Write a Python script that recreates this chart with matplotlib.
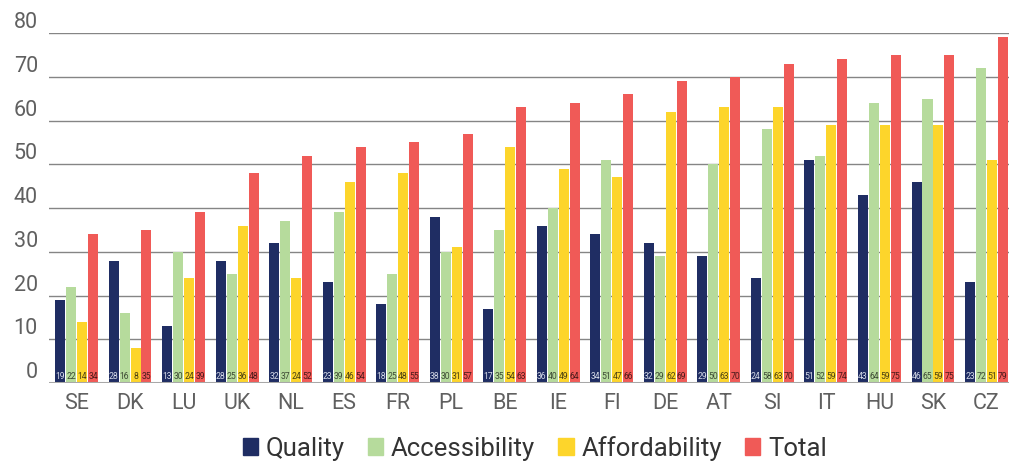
import numpy as np
import matplotlib.pyplot as plt
from matplotlib.patches import Patch

countries = ["SE", "DK", "LU", "UK", "NL", "ES", "FR", "PL", "BE",
             "IE", "FI", "DE", "AT", "SI", "IT", "HU", "SK", "CZ"]
quality = [19, 28, 13, 28, 32, 23, 18, 38, 17, 36, 34, 32, 29, 24, 51, 43, 46, 23]
accessibility = [22, 16, 30, 25, 37, 39, 25, 30, 35, 40, 51, 29, 50, 58, 52, 64, 65, 72]
affordability = [14, 8, 24, 36, 24, 46, 48, 31, 54, 49, 47, 62, 63, 63, 59, 59, 59, 51]
total = [34, 35, 39, 48, 52, 54, 55, 57, 63, 64, 66, 69, 70, 73, 74, 75, 75, 79]
# the printed label for SI total reads 70 although the bar is drawn higher
total_labels = [34, 35, 39, 48, 52, 54, 55, 57, 63, 64, 66, 69, 70, 70, 74, 75, 75, 79]

series = [
    ("Quality", quality, quality, "#1f2d63", "#d6dbe8"),
    ("Accessibility", accessibility, accessibility, "#b6db9c", "#3d4a35"),
    ("Affordability", affordability, affordability, "#fdd52b", "#4a4012"),
    ("Total", total, total_labels, "#f05a57", "#4a1a1a"),
]

plt.rcParams["font.family"] = ["Roboto", "DejaVu Sans"]

fig = plt.figure(figsize=(10.09, 4.66), dpi=100)
ax = fig.add_axes([0.0486, 0.178, 0.9514, 0.751])

x = np.arange(len(countries))
step = 0.205
width = 0.187

for i, (name, values, labels, color, text_color) in enumerate(series):
    pos = x + (i - 1.5) * step
    ax.bar(pos, values, width=width, color=color, zorder=3)
    for px, lab in zip(pos, labels):
        ax.text(px, 1.45, str(lab), ha="center", va="center", fontsize=6.2,
                color=text_color, zorder=4)

ax.set_ylim(0, 80)
ax.set_xlim(-0.513, 17.42)
ax.set_yticks(range(0, 81, 10))
ax.yaxis.grid(True, color="#858585", linewidth=1.0, zorder=0)
ax.axhline(0, color="#a8a8a8", linewidth=2.2, zorder=5)
for side in ["top", "right", "left", "bottom"]:
    ax.spines[side].set_visible(False)

ax.tick_params(axis="y", length=0, pad=8, labelsize=15.5, labelcolor="#606060")
for label in ax.get_yticklabels():
    label.set_verticalalignment("bottom")

ax.set_xticks(x)
ax.set_xticklabels(countries)
ax.tick_params(axis="x", length=0, pad=7, labelsize=15.5, labelcolor="#606060")

handles = [Patch(color=s[3], label=s[0]) for s in series]
fig.legend(handles=handles, loc="lower center", bbox_to_anchor=(0.53, -0.038),
           ncol=4, frameon=False, fontsize=18.5, handlelength=0.6, handleheight=0.6,
           handletextpad=0.3, columnspacing=0.9, labelcolor="#333333")

fig.savefig("out.png", dpi=100)
